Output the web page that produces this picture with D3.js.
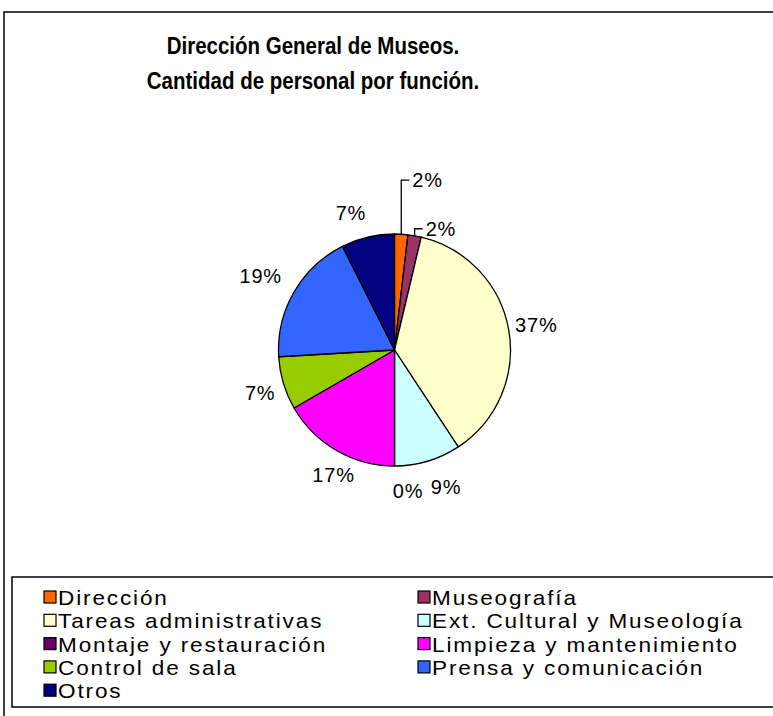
<!DOCTYPE html>
<html>
<head>
<meta charset="utf-8">
<script src="https://cdn.jsdelivr.net/npm/d3@7"></script>
<style>
  html, body { margin: 0; padding: 0; background: #fff; }
  svg { display: block; }
</style>
</head>
<body>
<svg id="chart" width="773" height="716"></svg>
<script>
// ---- data ----
const titleLines = ["Dirección General de Museos.", "Cantidad de personal por función."];
const categories = [
  "Dirección", "Museografía", "Tareas administrativas", "Ext. Cultural y Museología",
  "Montaje y restauración", "Limpieza y mantenimiento", "Control de sala",
  "Prensa y comunicación", "Otros"
];
const staffCounts = [1, 1, 20, 5, 0, 9, 4, 10, 4];
const sliceColors = [
  "#FF6600", "#993366", "#FFFFCC", "#CCFFFF",
  "#660066", "#FF00FF", "#99CC00", "#3366FF", "#000080"
];

// ---- layout ----
const W = 773, H = 716;
const cx = 394.5, cy = 350, R = 116;
const labelR = R + 28;
// callout labels (leader lines) for the two thin slices: rise above the pie edge
const calloutRise = { "Dirección": 54, "Museografía": 7 };
// small angular / radial tweaks mimicking the spreadsheet's label placement
const labelTweak = {
  "Ext. Cultural y Museología": [-4, 2],
  "Montaje y restauración": [-5.5, -3],
  "Limpieza y mantenimiento": [-4, -5],
  "Control de sala": [-1, -3],
  "Prensa y comunicación": [-1, 9],
  "Otros": [-4.3, 0]
};
const font = "'Liberation Sans', Arial, sans-serif";

const svg = d3.select("#chart");
const data = categories.map((c, i) => ({ name: c, value: staffCounts[i], color: sliceColors[i] }));
const total = d3.sum(staffCounts);
const pct = v => Math.round(v / total * 100) + "%";

// outer chart frame
svg.append("rect")
  .attr("x", 4).attr("y", 12)
  .attr("width", W).attr("height", H)
  .attr("fill", "#fff").attr("stroke", "#000").attr("stroke-width", 1.5);

// title (slightly tall glyphs, like the original bitmap font)
svg.append("g").selectAll("g").data(titleLines).join("g")
  .attr("transform", (d, i) => `translate(313,${54 + i * 35}) scale(1,1.14)`)
  .append("text")
  .attr("text-anchor", "middle")
  .attr("font-family", font).attr("font-weight", "bold").attr("font-size", 20.5)
  .attr("fill", "#000")
  .text(d => d);

// pie
const pie = d3.pie().sort(null).value(d => d.value);
const arcs = pie(data);
const arc = d3.arc().innerRadius(0).outerRadius(R);
const edgeArc = d3.arc().innerRadius(R).outerRadius(R);

const g = svg.append("g").attr("transform", `translate(${cx},${cy})`);
g.selectAll("path.slice").data(arcs).join("path")
  .attr("class", "slice")
  .attr("d", arc)
  .attr("fill", d => d.data.color)
  .attr("stroke", "#000").attr("stroke-width", 1.3)
  .attr("stroke-linejoin", "round");

// labels
const lblG = g.append("g")
  .attr("font-family", font).attr("font-size", 20).attr("letter-spacing", 0.8).attr("fill", "#000");

arcs.forEach(d => {
  const rise = calloutRise[d.data.name];
  if (rise !== undefined) {
    const [ex, ey] = edgeArc.centroid(d);
    const ty = ey - rise;
    lblG.append("path")
      .attr("d", `M${ex},${ey}V${ty}H${ex + 8}`)
      .attr("fill", "none").attr("stroke", "#000").attr("stroke-width", 1.3);
    lblG.append("text")
      .attr("x", ex + 11).attr("y", ty).attr("dy", "0.36em")
      .attr("text-anchor", "start")
      .text(pct(d.data.value));
  } else {
    const [da, dr] = labelTweak[d.data.name] || [0, 0];
    const a = (d.startAngle + d.endAngle) / 2 + da * Math.PI / 180;
    const rr = labelR + dr;
    const lblArc = d3.arc().innerRadius(rr).outerRadius(rr);
    const [lx, ly] = lblArc.centroid({ startAngle: a, endAngle: a });
    lblG.append("text")
      .attr("x", lx).attr("y", ly).attr("dy", "0.36em")
      .attr("text-anchor", "middle")
      .text(pct(d.data.value));
  }
});

// legend
svg.append("rect")
  .attr("x", 12).attr("y", 577)
  .attr("width", W).attr("height", 130)
  .attr("fill", "#fff").attr("stroke", "#000").attr("stroke-width", 1.5);

const colX = [44, 418];
const rowY = d3.scaleLinear().domain([0, 1]).range([605, 628.3]);
const leg = svg.append("g");
const items = leg.selectAll("g").data(data).join("g")
  .attr("transform", (d, i) => `translate(${colX[i % 2]},${rowY(Math.floor(i / 2))})`);
items.append("rect")
  .attr("x", 0).attr("y", -14).attr("width", 12).attr("height", 12)
  .attr("fill", d => d.color).attr("stroke", "#000").attr("stroke-width", 1.2);
items.append("g")
  .attr("transform", "translate(14,0) scale(1.1,1)")
  .append("text")
  .attr("font-family", font).attr("font-size", 20.5).attr("letter-spacing", 1.7)
  .attr("fill", "#000")
  .text(d => d.name);
</script>
</body>
</html>
